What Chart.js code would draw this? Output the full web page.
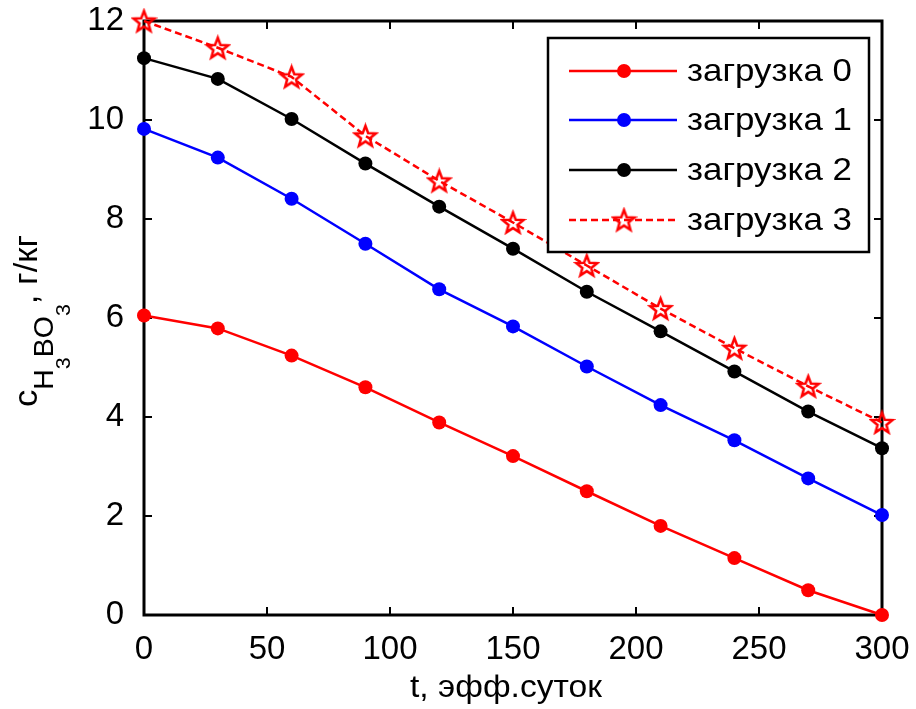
<!DOCTYPE html>
<html>
<head>
<meta charset="utf-8">
<script src="https://cdn.jsdelivr.net/npm/chart.js@4/dist/chart.umd.min.js"></script>
<style>
html, body { margin: 0; padding: 0; background: #fff; }
</style>
</head>
<body>
<canvas id="chart" width="916" height="709"></canvas>
<script>
// данные
const tDays = [0, 30, 60, 90, 120, 150, 180, 210, 240, 270, 300]
const load0 = [6.05, 5.79, 5.24, 4.60, 3.89, 3.21, 2.50, 1.80, 1.15, 0.50, 0.0]
const load1 = [9.82, 9.24, 8.41, 7.50, 6.58, 5.83, 5.02, 4.24, 3.53, 2.76, 2.02]
const load2 = [11.25, 10.83, 10.02, 9.12, 8.25, 7.40, 6.53, 5.73, 4.92, 4.11, 3.37]
const load3 = [12.0, 11.46, 10.87, 9.68, 8.77, 7.93, 7.06, 6.19, 5.39, 4.62, 3.89]
const seriesNames = ['загрузка 0', 'загрузка 1', 'загрузка 2', 'загрузка 3']
const xTicks = [0, 50, 100, 150, 200, 250, 300]
const yTicks = [0, 2, 4, 6, 8, 10, 12]
const xTitle = 't, эфф.суток'

const FONT = '"Liberation Sans", Arial, sans-serif'

// пятиконечная звезда (контур) как картинка для точки
function makeStar(size, color) {
    var c = document.createElement('canvas')
    c.width = size
    c.height = size
    var g = c.getContext('2d')
    var R = size / 2 - 2.5, r = R * 0.42, cx = size / 2, cy = size / 2 + 1
    g.beginPath()
    for (var i = 0; i < 10; i++) {
        var rad = i % 2 == 0 ? R : r
        var a = -Math.PI / 2 + i * Math.PI / 5
        var px = cx + rad * Math.cos(a), py = cy + rad * Math.sin(a)
        if (i == 0) g.moveTo(px, py); else g.lineTo(px, py)
    }
    g.closePath()
    g.strokeStyle = color
    g.lineWidth = 2.5
    g.lineJoin = 'miter'
    g.stroke()
    return c
}
const starImg = makeStar(27, '#ff0000')

function pts(ys) {
    return tDays.map((t, i) => ({ x: t, y: ys[i] }))
}

// текст, растянутый по ширине (шрифт в оригинале шире)
function fillFit(ctx, text, x, y, width) {
    var w = ctx.measureText(text).width
    ctx.save()
    ctx.translate(x, y)
    ctx.scale(width / w, 1)
    ctx.fillText(text, 0, 0)
    ctx.restore()
}

// рамка и засечки внутрь, как в MATLAB
const axesBox = {
    id: 'axesBox',
    beforeDatasetsDraw(chart) {
        const ctx = chart.ctx
        const a = chart.chartArea
        const sx = chart.scales.x, sy = chart.scales.y
        ctx.save()
        ctx.strokeStyle = '#000'
        ctx.lineWidth = 2
        ctx.beginPath()
        xTicks.forEach(v => {
            var px = Math.round(sx.getPixelForValue(v))
            ctx.moveTo(px, a.bottom); ctx.lineTo(px, a.bottom - 8)
            ctx.moveTo(px, a.top); ctx.lineTo(px, a.top + 8)
        })
        yTicks.forEach(v => {
            var py = Math.round(sy.getPixelForValue(v))
            ctx.moveTo(a.left, py); ctx.lineTo(a.left + 8, py)
            ctx.moveTo(a.right, py); ctx.lineTo(a.right - 8, py)
        })
        ctx.stroke()
        ctx.lineWidth = 3
        ctx.strokeRect(a.left, a.top, a.right - a.left, a.bottom - a.top)

        // подпись оси x
        ctx.fillStyle = '#000'
        ctx.font = '32px ' + FONT
        ctx.textAlign = 'left'
        ctx.textBaseline = 'middle'
        fillFit(ctx, xTitle, 410, 688, 192)

        // подпись оси y: c с индексом H3BO3, г/кг
        ctx.translate(37, 407)
        ctx.rotate(-Math.PI / 2)
        ctx.textAlign = 'left'
        ctx.textBaseline = 'alphabetic'
        var parts = [
            ['c', 34, 0],
            ['H', 28, 16],
            ['3', 21, 33],
            ['BO', 28, 16],
            ['3', 21, 33],
            [', г/кг', 34, 0]
        ]
        var total = 0
        parts.forEach(p => {
            ctx.font = p[1] + 'px ' + FONT
            total += ctx.measureText(p[0]).width
        })
        ctx.scale(172 / total, 1)
        var x = 0
        parts.forEach(p => {
            ctx.font = p[1] + 'px ' + FONT
            ctx.fillText(p[0], x, p[2])
            x += ctx.measureText(p[0]).width
        })
        ctx.restore()
    },
    afterDatasetsDraw(chart) {
        const ctx = chart.ctx
        ctx.save()
        ctx.fillStyle = '#fff'
        ctx.fillRect(548, 38, 321, 214)
        ctx.strokeStyle = '#000'
        ctx.lineWidth = 2.5
        ctx.strokeRect(548, 38, 321, 214)
        var rows = [71, 120, 170, 220]
        chart.data.datasets.forEach((ds, i) => {
            var y = rows[i]
            ctx.strokeStyle = ds.borderColor
            ctx.lineWidth = 2.5
            ctx.setLineDash(ds.borderDash || [])
            ctx.beginPath()
            ctx.moveTo(569, y); ctx.lineTo(677, y)
            ctx.stroke()
            ctx.setLineDash([])
            if (ds.pointStyle === starImg) {
                ctx.drawImage(starImg, 624 - 13.5, y - 13.5)
            } else {
                ctx.fillStyle = ds.pointBackgroundColor
                ctx.beginPath()
                ctx.arc(624, y, 7, 0, Math.PI * 2)
                ctx.fill()
            }
            ctx.fillStyle = '#000'
            ctx.font = '32px ' + FONT
            ctx.textAlign = 'left'
            ctx.textBaseline = 'middle'
            fillFit(ctx, seriesNames[i], 687, y + 1, 165)
        })
        ctx.restore()
    }
}

function dotSeries(name, ys, color) {
    return {
        label: name,
        data: pts(ys),
        borderColor: color,
        backgroundColor: color,
        pointBackgroundColor: color,
        pointBorderColor: color,
        borderWidth: 2.5,
        pointRadius: 7,
        pointBorderWidth: 0,
        tension: 0,
        clip: false
    }
}

const datasets = [
    dotSeries(seriesNames[0], load0, '#ff0000'),
    dotSeries(seriesNames[1], load1, '#0000ff'),
    dotSeries(seriesNames[2], load2, '#000000'),
    {
        label: seriesNames[3],
        data: pts(load3),
        borderColor: '#ff0000',
        borderDash: [7, 4],
        borderWidth: 2.5,
        pointStyle: starImg,
        tension: 0,
        clip: false
    }
]

var ctx = document.getElementById('chart')
var myChart = new Chart(ctx, {
    type: 'line',
    data: { datasets: datasets },
    plugins: [axesBox],
    options: {
        responsive: false,
        animation: false,
        layout: { padding: { top: 21, right: 34, left: 0, bottom: 0 } },
        plugins: {
            legend: { display: false },
            tooltip: { enabled: false }
        },
        scales: {
            x: {
                type: 'linear',
                min: 0,
                max: 300,
                afterBuildTicks: s => { s.ticks = xTicks.map(v => ({ value: v })) },
                afterFit: s => { s.height = 94; s.paddingLeft = 0; s.paddingRight = 0 },
                grid: { display: false },
                border: { display: false },
                ticks: { color: '#000', font: { family: FONT, size: 33 }, padding: 7, maxRotation: 0 }
            },
            y: {
                min: 0,
                max: 12,
                afterBuildTicks: s => { s.ticks = yTicks.map(v => ({ value: v })) },
                afterFit: s => { s.width = 144; s.paddingTop = 0; s.paddingBottom = 0 },
                grid: { display: false },
                border: { display: false },
                ticks: { color: '#000', font: { family: FONT, size: 33 }, padding: 12 }
            }
        }
    }
})
</script>
</body>
</html>
